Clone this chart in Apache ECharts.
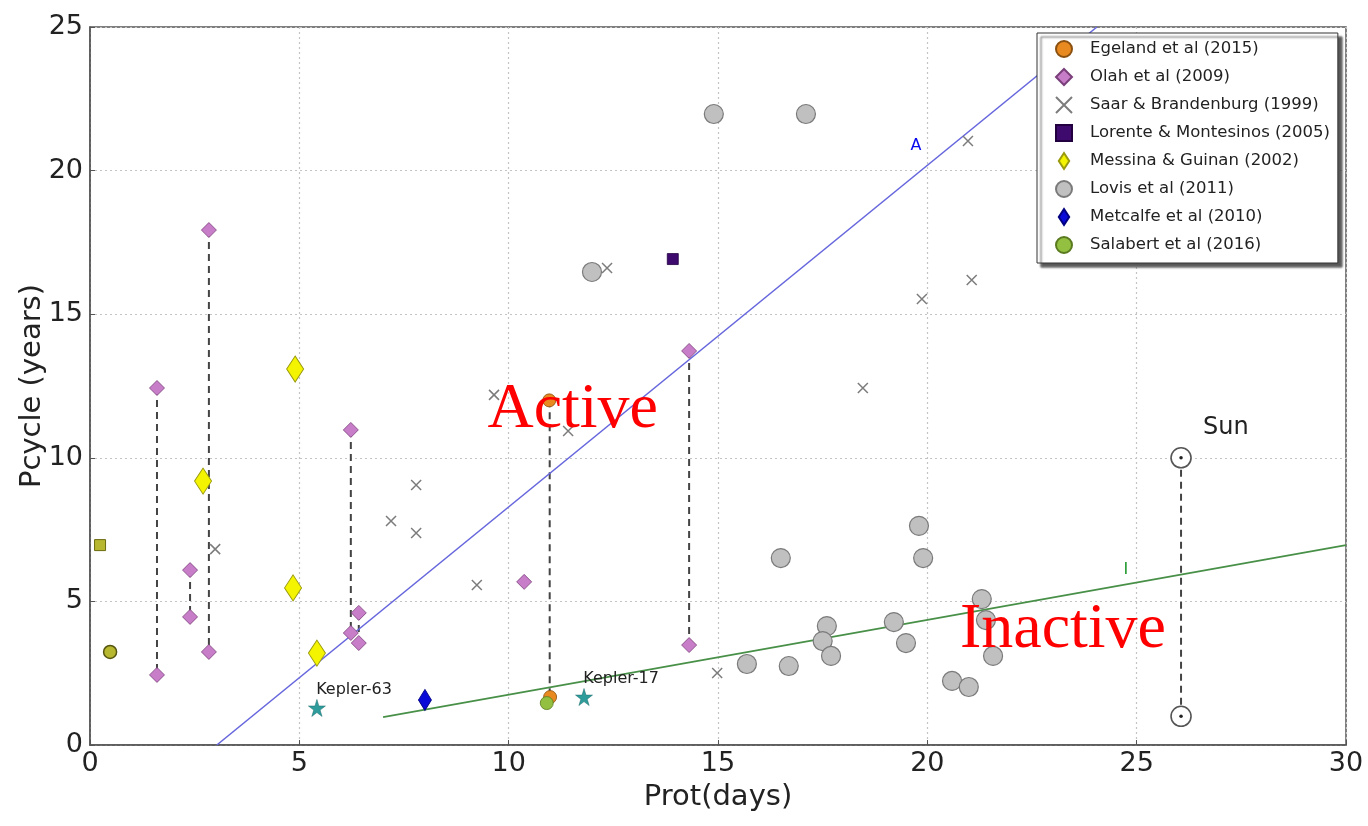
<!DOCTYPE html>
<html>
<head>
<meta charset="utf-8">
<script src="https://cdn.jsdelivr.net/npm/echarts@6/dist/echarts.min.js"></script>
<style>html,body{margin:0;padding:0;background:#fff}#c{width:1368px;height:826px}</style>
</head>
<body>
<div id="c"></div>
<script>
// ---- data (x = Prot days, y = Pcycle years) ----
const xTicks = [0, 5, 10, 15, 20, 25, 30];
const yTicks = [0, 5, 10, 15, 20, 25];
const egeland = [[10.97, 12.0], [10.99, 1.67]];
const olah = [[1.60, 12.43], [1.60, 2.44], [2.39, 6.09], [2.39, 4.46], [2.84, 17.93], [2.84, 3.24],
  [6.23, 10.97], [6.23, 3.90], [6.42, 4.60], [6.42, 3.55], [10.37, 5.68], [14.31, 13.72], [14.31, 3.48]];
const saar = [[2.99, 6.82], [7.19, 7.80], [7.79, 9.05], [7.79, 7.38], [9.24, 5.57], [9.65, 12.19],
  [11.42, 10.93], [12.35, 16.61], [14.98, 2.51], [18.46, 12.43], [19.87, 15.53], [20.97, 21.03], [21.06, 16.19]];
const lorente = [[13.92, 16.92]];
const messina = [[4.90, 13.09], [2.70, 9.19], [4.85, 5.47], [5.42, 3.20]];
const lovis = [[14.9, 21.97], [17.1, 21.97], [11.99, 16.47], [16.5, 6.51], [19.8, 7.63], [19.9, 6.51],
  [21.3, 5.08], [21.4, 4.35], [21.57, 3.10], [20.59, 2.23], [20.99, 2.02], [19.2, 4.28], [19.49, 3.55],
  [17.6, 4.14], [17.5, 3.62], [17.7, 3.10], [15.69, 2.82], [16.69, 2.75]];
const metcalfe = [[8.0, 1.57]];
const salabert = [[10.91, 1.46]];
const oliveSquare = [[0.24, 6.96]];
const oliveCircle = [[0.48, 3.24]];
const kepler = [[5.42, 1.29, 'Kepler-63'], [11.8, 1.67, 'Kepler-17']];
const sun = [[26.06, 10.0], [26.06, 1.0]];
// vertical dashed ranges: [x, yTop, yBottom]
const ranges = [[1.60, 12.43, 2.44], [2.39, 6.09, 4.46], [2.84, 17.93, 3.24], [6.23, 10.97, 3.90],
  [6.42, 4.60, 3.55], [10.98, 12.0, 1.62], [14.31, 13.72, 3.48], [26.06, 10.0, 1.0]];
// fit lines
const lineActive = [[3.03, 0], [24.05, 25]];
const lineInactive = [[7.0, 0.97], [30, 6.96]];
// annotations [x, y, text]
const bigLabels = [[11.53, 11.66, 'Active'], [23.24, 4.0, 'Inactive']];
const sunLabel = [[27.13, 11.04, 'Sun']];
const lineLabelA = [[19.73, 20.86, 'A']];
const lineLabelI = [[24.74, 6.09, 'I']];

const legendNames = ['Egeland et al (2015)', 'Olah et al (2009)', 'Saar & Brandenburg (1999)',
  'Lorente & Montesinos (2005)', 'Messina & Guinan (2002)', 'Lovis et al (2011)',
  'Metcalfe et al (2010)', 'Salabert et al (2016)'];

const tallDiamond = 'path://M6.5,0L13,10L6.5,20L0,10Z';
const crossPath = 'path://M0,0L10,10M10,0L0,10';
const starPath = 'path://M50,0 L61,35 L98,35 L68,57 L79,91 L50,70 L21,91 L32,57 L2,35 L39,35 Z';

const chart = echarts.init(document.getElementById('c'));
const series = [];

ranges.forEach(r => {
  series.push({
    type: 'line', data: [[r[0], r[1]], [r[0], r[2]]], symbol: 'none', silent: true,
    lineStyle: { color: '#444', width: 2, type: [7, 5] }, z: 1
  });
});
series.push({ type: 'line', data: lineActive, symbol: 'none', silent: true, lineStyle: { color: '#6666dd', width: 1.6 }, z: 2 });
series.push({ type: 'line', data: lineInactive, symbol: 'none', silent: true, lineStyle: { color: '#489048', width: 1.6 }, z: 2 });

function sc(name, data, symbol, size, style, z) {
  return { name: name, type: 'scatter', data: data, symbol: symbol, symbolSize: size,
    itemStyle: Object.assign({ opacity: 1 }, style), z: z || 4 };
}
series.push(sc(legendNames[5], lovis, 'circle', 19, { color: '#c0c0c0', borderColor: '#7a7a7a', borderWidth: 1.2 }, 3));
series.push(sc(legendNames[2], saar, crossPath, 10, { color: 'rgba(0,0,0,0)', borderColor: '#7c7c7c', borderWidth: 1.5 }, 3));
series.push(sc(legendNames[1], olah, 'diamond', 15, { color: '#c77dc7', borderColor: '#7a3f7a', borderWidth: 0.8 }));
series.push(sc(legendNames[4], messina, 'diamond', [17, 26], { color: '#f4f400', borderColor: '#9a9a10', borderWidth: 1 }));
series.push(sc(legendNames[3], lorente, 'rect', 11, { color: '#3f0a6e', borderColor: '#220040', borderWidth: 0.8 }));
series.push(sc(legendNames[0], egeland, 'circle', 13, { color: '#e88a20', borderColor: '#8a5010', borderWidth: 0.8 }, 5));
series.push(sc(legendNames[6], metcalfe, 'diamond', [13, 21], { color: '#0a0ad8', borderColor: '#000080', borderWidth: 0.8 }, 5));
series.push(sc(legendNames[7], salabert, 'circle', 13, { color: '#93c040', borderColor: '#5a7a20', borderWidth: 0.8 }, 6));
series.push(sc(null, oliveSquare, 'rect', 11, { color: '#b8b830', borderColor: '#6a6a10', borderWidth: 1 }));
series.push(sc(null, oliveCircle, 'circle', 13, { color: '#b8b830', borderColor: '#555510', borderWidth: 1.5 }));
const kep = sc(null, kepler.map(k => ({ value: [k[0], k[1]], name: k[2] })), starPath, 17,
  { color: '#2f9c9c', borderColor: '#1a6a6a', borderWidth: 0.5 }, 6);
kep.label = { show: true, position: [8, -17], formatter: p => p.name, fontFamily: 'DejaVu Sans', fontSize: 16, color: '#222' };
series.push(kep);
series.push(sc(null, sun, 'circle', 20, { color: '#fff', borderColor: '#555', borderWidth: 1.6 }, 6));
series.push(sc(null, sun, 'circle', 3.5, { color: '#222' }, 7));

function textSeries(arr, style) {
  return { type: 'scatter', data: arr.map(a => ({ value: [a[0], a[1]], name: a[2] })), symbol: 'circle', symbolSize: 0,
    silent: true, z: 10, itemStyle: { opacity: 1 },
    label: Object.assign({ show: true, position: 'inside', formatter: p => p.name }, style) };
}
series.push(textSeries(bigLabels, { fontFamily: 'Liberation Serif', fontSize: 64, color: '#ff0000' }));
series.push(textSeries(sunLabel, { fontFamily: 'DejaVu Sans', fontSize: 24, color: '#222' }));
series.push(textSeries(lineLabelA, { fontFamily: 'DejaVu Sans', fontSize: 16, color: '#0a0aee' }));
series.push(textSeries(lineLabelI, { fontFamily: 'DejaVu Sans', fontSize: 16, color: '#1f992c' }));

const axisCommon = {
  axisLine: { show: true, lineStyle: { color: '#555', width: 1.5 } },
  axisTick: { show: true, inside: true, length: 5, lineStyle: { color: '#555' } },
  splitLine: { show: true, lineStyle: { color: '#c4c4c4', type: [2, 3], width: 1.2 } },
  nameTextStyle: { fontFamily: 'DejaVu Sans', fontSize: 29, color: '#222' },
  nameMoveOverlap: false
};

chart.setOption({
  animation: false,
  backgroundColor: '#fff',
  grid: { left: 90, right: 22, top: 27, bottom: 81, show: true, borderColor: '#555', borderWidth: 1.5, backgroundColor: 'transparent' },
  xAxis: Object.assign({
    type: 'value', min: xTicks[0], max: xTicks[xTicks.length - 1], interval: 5,
    name: 'Prot(days)', nameLocation: 'middle', nameGap: 38,
    axisLabel: { fontFamily: 'DejaVu Sans', fontSize: 27, color: '#222', margin: 5 }
  }, axisCommon),
  yAxis: Object.assign({
    type: 'value', min: yTicks[0], max: yTicks[yTicks.length - 1], interval: 5,
    name: 'Pcycle (years)', nameLocation: 'middle', nameGap: 43,
    axisLabel: { fontFamily: 'DejaVu Sans', fontSize: 27, color: '#222', margin: 7 }
  }, axisCommon),
  legend: {
    data: legendNames.map(n => {
      if (n === legendNames[4] || n === legendNames[6]) return { name: n, icon: tallDiamond };
      return { name: n };
    }),
    orient: 'vertical', left: 1037, top: 33,
    itemWidth: 16, itemHeight: 16, itemGap: 10, padding: [7, 8, 9, 18],
    backgroundColor: '#fff', borderColor: '#333', borderWidth: 1,
    shadowColor: 'rgba(60,60,60,0.85)', shadowOffsetX: 4, shadowOffsetY: 4, shadowBlur: 2,
    textStyle: { fontFamily: 'DejaVu Sans', fontSize: 16.5, lineHeight: 16, color: '#222', padding: [0, 0, 0, 13] }
  },
  series: series
});
</script>
</body>
</html>
